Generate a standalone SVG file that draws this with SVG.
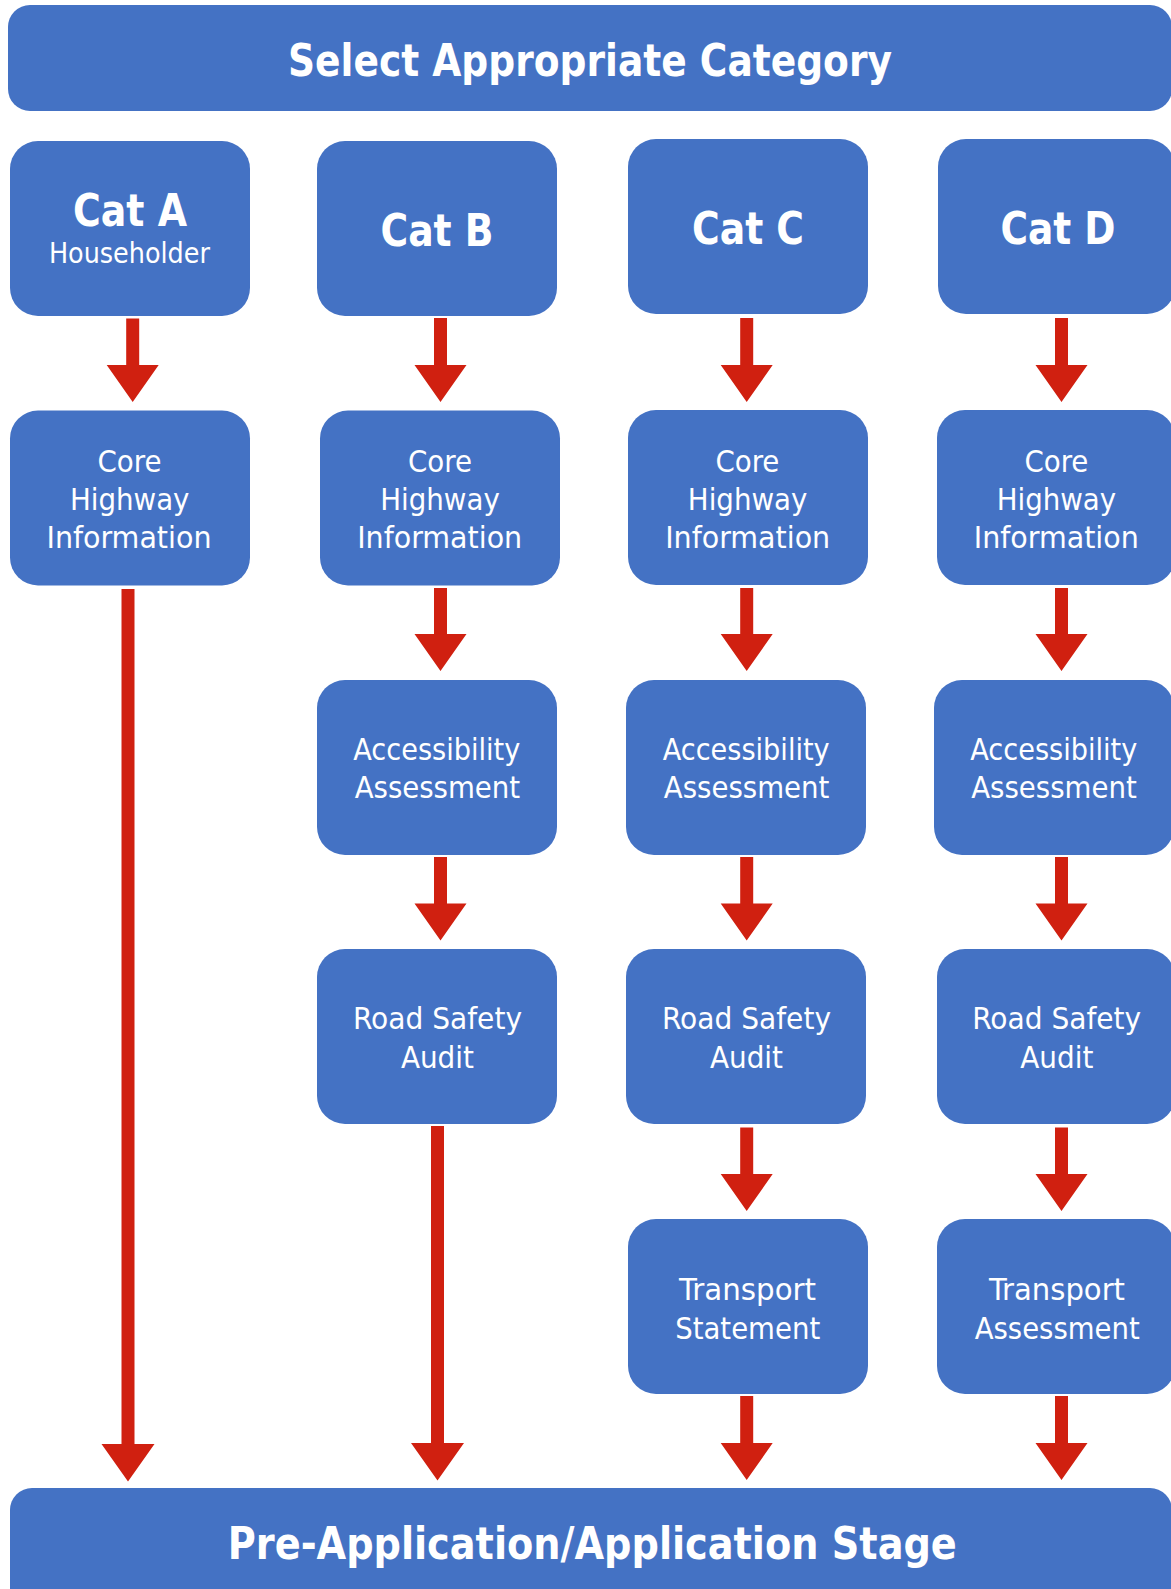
<svg xmlns="http://www.w3.org/2000/svg" width="1171" height="1589" viewBox="0 0 1171 1589">
  <style>
    .box { fill: #4472C4; }
    .arrow { fill: #D02010; }
    text { fill: #FFFFFF; font-family: "DejaVu Sans Condensed", "DejaVu Sans", sans-serif; font-stretch: condensed; text-anchor: middle; }
    .big { font-size: 44.5px; font-weight: bold; }
    .sub { font-size: 29px; }
    .body { font-size: 30.5px; }
  </style>
  <rect width="1171" height="1589" fill="#FFFFFF"/>

  <!-- header banner -->
  <g id="select-category">
    <rect class="box" x="8" y="5" width="1164" height="106" rx="22"/>
    <text class="big" x="590" y="76" textLength="604" lengthAdjust="spacingAndGlyphs">Select Appropriate Category</text>
  </g>

  <!-- category boxes -->
  <g id="cat-a">
    <rect class="box" x="10" y="141" width="240" height="175" rx="28"/>
    <text class="big" x="130" y="225.7" textLength="114" lengthAdjust="spacingAndGlyphs">Cat A</text>
    <text class="sub" x="129.4" y="263.3" textLength="161" lengthAdjust="spacingAndGlyphs">Householder</text>
  </g>
  <g id="cat-b">
    <rect class="box" x="317" y="141" width="240" height="175" rx="28"/>
    <text class="big" x="437" y="245.5" textLength="113" lengthAdjust="spacingAndGlyphs">Cat B</text>
  </g>
  <g id="cat-c">
    <rect class="box" x="628" y="139" width="240" height="175" rx="28"/>
    <text class="big" x="748" y="244.3" textLength="112" lengthAdjust="spacingAndGlyphs">Cat C</text>
  </g>
  <g id="cat-d">
    <rect class="box" x="938" y="139" width="237" height="175" rx="28"/>
    <text class="big" x="1058" y="244.3" textLength="115" lengthAdjust="spacingAndGlyphs">Cat D</text>
  </g>

  <!-- core highway information -->
  <g id="core-a">
    <rect class="box" x="10" y="410.5" width="240" height="175" rx="28"/>
    <text class="body" x="129.5" y="471.7" textLength="64" lengthAdjust="spacingAndGlyphs">Core</text>
    <text class="body" x="129.7" y="510.3" textLength="119.5" lengthAdjust="spacingAndGlyphs">Highway</text>
    <text class="body" x="129" y="548.3" textLength="165" lengthAdjust="spacingAndGlyphs">Information</text>
  </g>
  <g id="core-b">
    <rect class="box" x="320" y="410.5" width="240" height="175" rx="28"/>
    <text class="body" x="440" y="471.7" textLength="64" lengthAdjust="spacingAndGlyphs">Core</text>
    <text class="body" x="440" y="510.3" textLength="119.5" lengthAdjust="spacingAndGlyphs">Highway</text>
    <text class="body" x="439.7" y="548.3" textLength="165" lengthAdjust="spacingAndGlyphs">Information</text>
  </g>
  <g id="core-c">
    <rect class="box" x="628" y="410" width="240" height="175" rx="28"/>
    <text class="body" x="747.4" y="471.7" textLength="64" lengthAdjust="spacingAndGlyphs">Core</text>
    <text class="body" x="747.6" y="510.3" textLength="119.5" lengthAdjust="spacingAndGlyphs">Highway</text>
    <text class="body" x="747.7" y="548.3" textLength="165" lengthAdjust="spacingAndGlyphs">Information</text>
  </g>
  <g id="core-d">
    <rect class="box" x="937" y="410" width="238" height="175" rx="28"/>
    <text class="body" x="1056.4" y="471.7" textLength="64" lengthAdjust="spacingAndGlyphs">Core</text>
    <text class="body" x="1056.4" y="510.3" textLength="119.5" lengthAdjust="spacingAndGlyphs">Highway</text>
    <text class="body" x="1056.3" y="548.3" textLength="165" lengthAdjust="spacingAndGlyphs">Information</text>
  </g>

  <!-- accessibility assessment -->
  <g id="access-b">
    <rect class="box" x="317" y="680" width="240" height="175" rx="28"/>
    <text class="body" x="436.8" y="760" textLength="167" lengthAdjust="spacingAndGlyphs">Accessibility</text>
    <text class="body" x="437.4" y="798.3" textLength="165.5" lengthAdjust="spacingAndGlyphs">Assessment</text>
  </g>
  <g id="access-c">
    <rect class="box" x="626" y="680" width="240" height="175" rx="28"/>
    <text class="body" x="746.2" y="760" textLength="167" lengthAdjust="spacingAndGlyphs">Accessibility</text>
    <text class="body" x="746.6" y="798.3" textLength="165.5" lengthAdjust="spacingAndGlyphs">Assessment</text>
  </g>
  <g id="access-d">
    <rect class="box" x="934" y="680" width="240" height="175" rx="28"/>
    <text class="body" x="1053.8" y="760" textLength="167" lengthAdjust="spacingAndGlyphs">Accessibility</text>
    <text class="body" x="1054" y="798.3" textLength="165.5" lengthAdjust="spacingAndGlyphs">Assessment</text>
  </g>

  <!-- road safety audit -->
  <g id="rsa-b">
    <rect class="box" x="317" y="949" width="240" height="175" rx="28"/>
    <text class="body" x="437.5" y="1029.3" textLength="169" lengthAdjust="spacingAndGlyphs">Road Safety</text>
    <text class="body" x="437.4" y="1068.3" textLength="73" lengthAdjust="spacingAndGlyphs">Audit</text>
  </g>
  <g id="rsa-c">
    <rect class="box" x="626" y="949" width="240" height="175" rx="28"/>
    <text class="body" x="746.5" y="1029.3" textLength="169" lengthAdjust="spacingAndGlyphs">Road Safety</text>
    <text class="body" x="746.5" y="1068.3" textLength="73" lengthAdjust="spacingAndGlyphs">Audit</text>
  </g>
  <g id="rsa-d">
    <rect class="box" x="937" y="949" width="238" height="175" rx="28"/>
    <text class="body" x="1056.7" y="1029.3" textLength="169" lengthAdjust="spacingAndGlyphs">Road Safety</text>
    <text class="body" x="1056.8" y="1068.3" textLength="73" lengthAdjust="spacingAndGlyphs">Audit</text>
  </g>

  <!-- transport statement / assessment -->
  <g id="ts-c">
    <rect class="box" x="628" y="1219" width="240" height="175" rx="28"/>
    <text class="body" x="747.6" y="1300" textLength="137" lengthAdjust="spacingAndGlyphs">Transport</text>
    <text class="body" x="747.7" y="1339" textLength="145" lengthAdjust="spacingAndGlyphs">Statement</text>
  </g>
  <g id="ta-d">
    <rect class="box" x="937" y="1219" width="238" height="175" rx="28"/>
    <text class="body" x="1057" y="1300" textLength="136" lengthAdjust="spacingAndGlyphs">Transport</text>
    <text class="body" x="1057.2" y="1339" textLength="165" lengthAdjust="spacingAndGlyphs">Assessment</text>
  </g>

  <!-- footer banner -->
  <g id="application-stage">
    <rect class="box" x="10" y="1488" width="1162" height="130" rx="22"/>
    <text class="big" x="592.3" y="1559" textLength="729" lengthAdjust="spacingAndGlyphs">Pre-Application/Application Stage</text>
  </g>

  <!-- block arrows -->
  <g id="connectors">
    <!-- column A -->
    <path class="arrow" d="M126.2 318.5H139.2V365H158.7L132.7 402L106.7 365H126.2Z"/>
    <path class="arrow" d="M121.5 589H134.5V1444H154.5L128 1481.5L101.5 1444H121.5Z"/>
    <!-- column B -->
    <path class="arrow" d="M434 318H447V365H466.5L440.5 402L414.5 365H434Z"/>
    <path class="arrow" d="M434 588H447V634H466.5L440.5 671L414.5 634H434Z"/>
    <path class="arrow" d="M434 857H447V903.5H466.5L440.5 940.5L414.5 903.5H434Z"/>
    <path class="arrow" d="M431 1126H444V1443H464L437.5 1480.5L411 1443H431Z"/>
    <!-- column C -->
    <path class="arrow" d="M740.2 318H753.2V365H772.7L746.7 402L720.7 365H740.2Z"/>
    <path class="arrow" d="M740.2 588H753.2V634H772.7L746.7 671L720.7 634H740.2Z"/>
    <path class="arrow" d="M740.2 857H753.2V903.5H772.7L746.7 940.5L720.7 903.5H740.2Z"/>
    <path class="arrow" d="M740.2 1127.5H753.2V1174H772.7L746.7 1211L720.7 1174H740.2Z"/>
    <path class="arrow" d="M740.2 1396H753.2V1443H772.7L746.7 1480L720.7 1443H740.2Z"/>
    <!-- column D -->
    <path class="arrow" d="M1055 318H1068V365H1087.5L1061.5 402L1035.5 365H1055Z"/>
    <path class="arrow" d="M1055 588H1068V634H1087.5L1061.5 671L1035.5 634H1055Z"/>
    <path class="arrow" d="M1055 857H1068V903.5H1087.5L1061.5 940.5L1035.5 903.5H1055Z"/>
    <path class="arrow" d="M1055 1127.5H1068V1174H1087.5L1061.5 1211L1035.5 1174H1055Z"/>
    <path class="arrow" d="M1055 1396H1068V1443H1087.5L1061.5 1480L1035.5 1443H1055Z"/>
  </g>
</svg>
